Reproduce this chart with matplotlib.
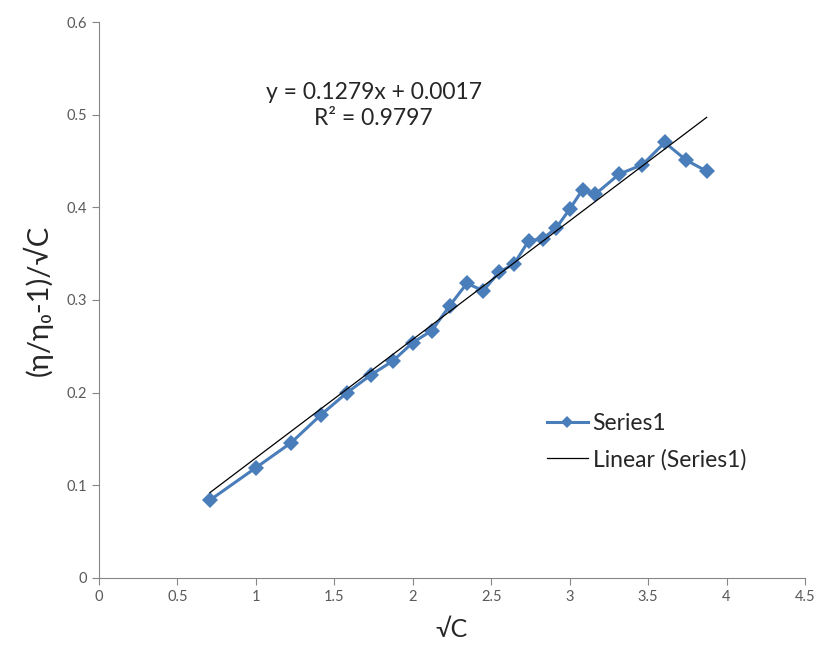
import matplotlib
matplotlib.use("Agg")
import matplotlib.pyplot as plt
import numpy as np

# sqrt(C) and reduced viscosity ratio
sqrt_c = [0.707, 1.0, 1.225, 1.414, 1.581, 1.732, 1.871, 2.0, 2.121, 2.236,
          2.345, 2.449, 2.55, 2.646, 2.739, 2.828, 2.915, 3.0, 3.082, 3.162,
          3.317, 3.464, 3.606, 3.742, 3.873]
ratio = [0.084, 0.119, 0.146, 0.176, 0.200, 0.219, 0.234, 0.254, 0.267, 0.294,
         0.318, 0.310, 0.330, 0.339, 0.364, 0.366, 0.378, 0.398, 0.419, 0.414,
         0.436, 0.446, 0.470, 0.451, 0.439]

slope, intercept = 0.1279, 0.0017
eq_text = "y = 0.1279x + 0.0017\nR² = 0.9797"

plt.rcParams["font.family"] = ["Lato", "DejaVu Sans"]

fig = plt.figure(figsize=(8.19, 6.55), dpi=100)
ax = fig.add_axes([0.1209, 0.1176, 0.8620, 0.8488])

blue = "#4a7ebb"
ax.plot(sqrt_c, ratio, "-D", color=blue, lw=2.2, markersize=8,
        markeredgewidth=0, label="Series1", zorder=3)
xs = np.array([sqrt_c[0], sqrt_c[-1]])
ax.plot(xs, slope * xs + intercept, color="black", lw=0.9,
        label="Linear (Series1)", zorder=4)

ax.set_xlim(0, 4.5)
ax.set_ylim(0, 0.6)
ax.set_xticks(np.arange(0, 4.51, 0.5))
ax.set_yticks(np.arange(0, 0.61, 0.1))
ax.set_xticklabels(["0", "0.5", "1", "1.5", "2", "2.5", "3", "3.5", "4", "4.5"])
ax.set_yticklabels(["0", "0.1", "0.2", "0.3", "0.4", "0.5", "0.6"])

for s in ("top", "right"):
    ax.spines[s].set_visible(False)
for s in ("left", "bottom"):
    ax.spines[s].set_color("#868686")
ax.tick_params(colors="#868686", labelcolor="#595959", labelsize=10.5,
               length=5, direction="out")

ax.set_xlabel("√C", fontsize=18, color="#262626", labelpad=10)
ax.set_ylabel("(η/η₀-1)/√C", fontsize=21, color="#262626", labelpad=10)

ax.text(1.75, 0.51, eq_text, ha="center", va="center", fontsize=16.5,
        color="#262626", linespacing=1.25)

leg = ax.legend(loc="center left", bbox_to_anchor=(0.605, 0.245), frameon=False,
                fontsize=16.5, handlelength=1.8, handletextpad=0.2,
                labelspacing=0.65, markerscale=0.75)
for t in leg.get_texts():
    t.set_color("#262626")

fig.savefig("out.png", dpi=100)
